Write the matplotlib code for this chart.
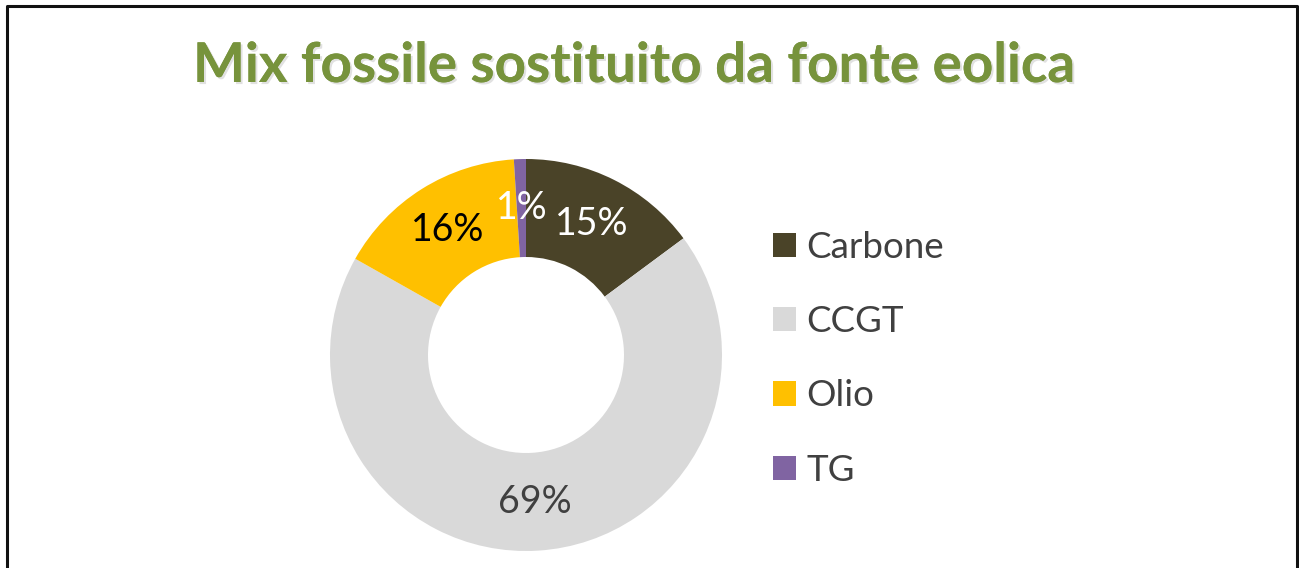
import matplotlib
matplotlib.use("Agg")
import matplotlib.pyplot as plt
import matplotlib.patheffects as pe
from matplotlib.lines import Line2D

plt.rcParams['font.family'] = ['Lato', 'DejaVu Sans']

# Data
categories = ["Carbone", "CCGT", "Olio", "TG"]
shares = [15, 69, 16, 1]
colors = ["#4a4328", "#d9d9d9", "#ffc000", "#8064a2"]
label_colors = ["white", "#404040", "black", "white"]
title = "Mix fossile sostituito da fonte eolica"

W, H = 1299, 568
fig = plt.figure(figsize=(W / 100, H / 100), dpi=100)
ax = fig.add_axes([0, 0, 1, 1])

cx, cy, R = 526, H - 355, 196
wedges, _, autotexts = ax.pie(
    shares, colors=colors, startangle=90, counterclock=False,
    center=(cx, cy), radius=R, autopct=lambda p: f"{p:.0f}%",
    pctdistance=0.75, wedgeprops=dict(width=R * 0.5, linewidth=0),
    textprops=dict(fontsize=27), frame=True,
)
ax.set_xlim(0, W)
ax.set_ylim(0, H)
ax.set_aspect("equal")
ax.axis("off")
for t, s, c in zip(autotexts, shares, label_colors):
    t.set_text(f"{s}%")
    t.set_color(c)

# Title with soft shadow
ax.text(634, H - 82, title, ha="center", va="baseline", fontsize=39.5,
        fontweight="bold", color="#77933c",
        path_effects=[pe.withSimplePatchShadow(offset=(1.5, -1.5), shadow_rgbFace="#aaaaaa", alpha=0.35),
                      pe.Normal()])

# Legend
leg = ax.legend(wedges, categories, loc="upper left",
                bbox_to_anchor=(773 / W, 1 - 231 / H), frameon=False,
                fontsize=26.5, labelcolor="#404040", handlelength=0.63,
                handleheight=0.63, handletextpad=0.27, labelspacing=1.12,
                borderpad=0, borderaxespad=0)

# Outer frame (open at the bottom)
frame_kw = dict(color="#111111", linewidth=2.2)
ax.add_line(Line2D([7, 7, 1297, 1297], [-5, H - 6, H - 6, -5], **frame_kw))

fig.savefig("out.png", dpi=100)
